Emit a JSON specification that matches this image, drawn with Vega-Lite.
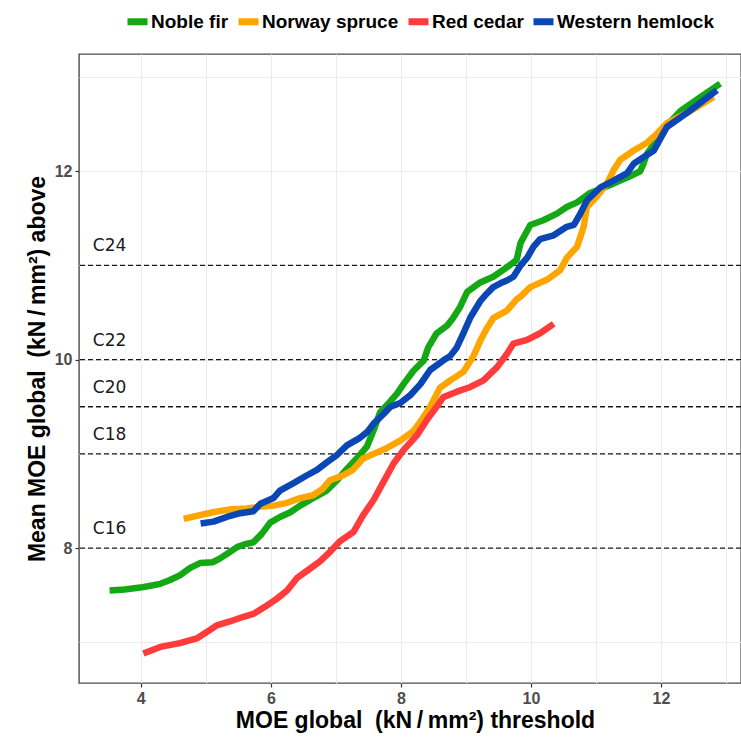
{
  "$schema": "https://vega.github.io/schema/vega-lite/v6.json",
  "width": 662,
  "height": 629,
  "autosize": {"type": "none"},
  "padding": {"left": 79, "top": 54, "right": 0, "bottom": 55},
  "background": "white",
  "config": {
    "view": {"stroke": "#4D4D4D", "strokeWidth": 1.4},
    "font": "Liberation Sans"
  },
  "datasets": {
    "grades": [
      {"grade": "C16", "mean": 8},
      {"grade": "C18", "mean": 9},
      {"grade": "C20", "mean": 9.5},
      {"grade": "C22", "mean": 10},
      {"grade": "C24", "mean": 11}
    ],
    "curves": [
      {"species": "Noble fir", "threshold": 3.52, "mean_above": 7.55},
      {"species": "Noble fir", "threshold": 3.75, "mean_above": 7.56},
      {"species": "Noble fir", "threshold": 3.99, "mean_above": 7.58},
      {"species": "Noble fir", "threshold": 4.15, "mean_above": 7.60},
      {"species": "Noble fir", "threshold": 4.30, "mean_above": 7.62},
      {"species": "Noble fir", "threshold": 4.45, "mean_above": 7.66},
      {"species": "Noble fir", "threshold": 4.60, "mean_above": 7.71},
      {"species": "Noble fir", "threshold": 4.76, "mean_above": 7.79},
      {"species": "Noble fir", "threshold": 4.91, "mean_above": 7.84},
      {"species": "Noble fir", "threshold": 5.11, "mean_above": 7.85},
      {"species": "Noble fir", "threshold": 5.22, "mean_above": 7.89},
      {"species": "Noble fir", "threshold": 5.33, "mean_above": 7.94},
      {"species": "Noble fir", "threshold": 5.48, "mean_above": 8.01},
      {"species": "Noble fir", "threshold": 5.60, "mean_above": 8.04},
      {"species": "Noble fir", "threshold": 5.73, "mean_above": 8.06},
      {"species": "Noble fir", "threshold": 5.86, "mean_above": 8.15},
      {"species": "Noble fir", "threshold": 5.99, "mean_above": 8.27},
      {"species": "Noble fir", "threshold": 6.14, "mean_above": 8.33},
      {"species": "Noble fir", "threshold": 6.30, "mean_above": 8.38},
      {"species": "Noble fir", "threshold": 6.45, "mean_above": 8.45},
      {"species": "Noble fir", "threshold": 6.65, "mean_above": 8.53},
      {"species": "Noble fir", "threshold": 6.86, "mean_above": 8.61},
      {"species": "Noble fir", "threshold": 7.02, "mean_above": 8.72},
      {"species": "Noble fir", "threshold": 7.17, "mean_above": 8.84},
      {"species": "Noble fir", "threshold": 7.32, "mean_above": 8.95},
      {"species": "Noble fir", "threshold": 7.48, "mean_above": 9.08},
      {"species": "Noble fir", "threshold": 7.58, "mean_above": 9.25},
      {"species": "Noble fir", "threshold": 7.68, "mean_above": 9.44},
      {"species": "Noble fir", "threshold": 7.84, "mean_above": 9.56},
      {"species": "Noble fir", "threshold": 7.94, "mean_above": 9.64},
      {"species": "Noble fir", "threshold": 8.04, "mean_above": 9.74},
      {"species": "Noble fir", "threshold": 8.19, "mean_above": 9.88},
      {"species": "Noble fir", "threshold": 8.35, "mean_above": 9.99},
      {"species": "Noble fir", "threshold": 8.42, "mean_above": 10.13},
      {"species": "Noble fir", "threshold": 8.55, "mean_above": 10.28},
      {"species": "Noble fir", "threshold": 8.71, "mean_above": 10.36},
      {"species": "Noble fir", "threshold": 8.80, "mean_above": 10.44},
      {"species": "Noble fir", "threshold": 8.91, "mean_above": 10.56},
      {"species": "Noble fir", "threshold": 9.02, "mean_above": 10.72},
      {"species": "Noble fir", "threshold": 9.22, "mean_above": 10.82},
      {"species": "Noble fir", "threshold": 9.42, "mean_above": 10.88},
      {"species": "Noble fir", "threshold": 9.63, "mean_above": 10.98},
      {"species": "Noble fir", "threshold": 9.78, "mean_above": 11.06},
      {"species": "Noble fir", "threshold": 9.84, "mean_above": 11.24},
      {"species": "Noble fir", "threshold": 9.99, "mean_above": 11.43},
      {"species": "Noble fir", "threshold": 10.19, "mean_above": 11.48},
      {"species": "Noble fir", "threshold": 10.40, "mean_above": 11.55},
      {"species": "Noble fir", "threshold": 10.55, "mean_above": 11.62},
      {"species": "Noble fir", "threshold": 10.71, "mean_above": 11.67},
      {"species": "Noble fir", "threshold": 10.91, "mean_above": 11.77},
      {"species": "Noble fir", "threshold": 11.10, "mean_above": 11.82},
      {"species": "Noble fir", "threshold": 11.27, "mean_above": 11.87},
      {"species": "Noble fir", "threshold": 11.53, "mean_above": 11.95},
      {"species": "Noble fir", "threshold": 11.68, "mean_above": 12.00},
      {"species": "Noble fir", "threshold": 11.73, "mean_above": 12.08},
      {"species": "Noble fir", "threshold": 11.78, "mean_above": 12.18},
      {"species": "Noble fir", "threshold": 11.90, "mean_above": 12.30},
      {"species": "Noble fir", "threshold": 12.05, "mean_above": 12.46},
      {"species": "Noble fir", "threshold": 12.30, "mean_above": 12.64},
      {"species": "Noble fir", "threshold": 12.61, "mean_above": 12.79},
      {"species": "Noble fir", "threshold": 12.91, "mean_above": 12.93},

      {"species": "Norway spruce", "threshold": 4.66, "mean_above": 8.31},
      {"species": "Norway spruce", "threshold": 4.91, "mean_above": 8.35},
      {"species": "Norway spruce", "threshold": 5.11, "mean_above": 8.38},
      {"species": "Norway spruce", "threshold": 5.37, "mean_above": 8.41},
      {"species": "Norway spruce", "threshold": 5.63, "mean_above": 8.42},
      {"species": "Norway spruce", "threshold": 5.84, "mean_above": 8.44},
      {"species": "Norway spruce", "threshold": 6.04, "mean_above": 8.45},
      {"species": "Norway spruce", "threshold": 6.25, "mean_above": 8.48},
      {"species": "Norway spruce", "threshold": 6.45, "mean_above": 8.53},
      {"species": "Norway spruce", "threshold": 6.65, "mean_above": 8.56},
      {"species": "Norway spruce", "threshold": 6.80, "mean_above": 8.63},
      {"species": "Norway spruce", "threshold": 6.91, "mean_above": 8.72},
      {"species": "Norway spruce", "threshold": 7.11, "mean_above": 8.77},
      {"species": "Norway spruce", "threshold": 7.26, "mean_above": 8.83},
      {"species": "Norway spruce", "threshold": 7.42, "mean_above": 8.95},
      {"species": "Norway spruce", "threshold": 7.58, "mean_above": 9.00},
      {"species": "Norway spruce", "threshold": 7.78, "mean_above": 9.06},
      {"species": "Norway spruce", "threshold": 7.99, "mean_above": 9.14},
      {"species": "Norway spruce", "threshold": 8.19, "mean_above": 9.24},
      {"species": "Norway spruce", "threshold": 8.30, "mean_above": 9.34},
      {"species": "Norway spruce", "threshold": 8.45, "mean_above": 9.50},
      {"species": "Norway spruce", "threshold": 8.60, "mean_above": 9.70},
      {"species": "Norway spruce", "threshold": 8.76, "mean_above": 9.78},
      {"species": "Norway spruce", "threshold": 8.96, "mean_above": 9.87},
      {"species": "Norway spruce", "threshold": 9.11, "mean_above": 10.03},
      {"species": "Norway spruce", "threshold": 9.22, "mean_above": 10.20},
      {"species": "Norway spruce", "threshold": 9.32, "mean_above": 10.33},
      {"species": "Norway spruce", "threshold": 9.42, "mean_above": 10.44},
      {"species": "Norway spruce", "threshold": 9.63, "mean_above": 10.52},
      {"species": "Norway spruce", "threshold": 9.78, "mean_above": 10.64},
      {"species": "Norway spruce", "threshold": 9.84, "mean_above": 10.67},
      {"species": "Norway spruce", "threshold": 9.99, "mean_above": 10.77},
      {"species": "Norway spruce", "threshold": 10.25, "mean_above": 10.85},
      {"species": "Norway spruce", "threshold": 10.45, "mean_above": 10.95},
      {"species": "Norway spruce", "threshold": 10.55, "mean_above": 11.08},
      {"species": "Norway spruce", "threshold": 10.71, "mean_above": 11.20},
      {"species": "Norway spruce", "threshold": 10.81, "mean_above": 11.41},
      {"species": "Norway spruce", "threshold": 10.86, "mean_above": 11.62},
      {"species": "Norway spruce", "threshold": 11.01, "mean_above": 11.73},
      {"species": "Norway spruce", "threshold": 11.17, "mean_above": 11.87},
      {"species": "Norway spruce", "threshold": 11.27, "mean_above": 12.01},
      {"species": "Norway spruce", "threshold": 11.37, "mean_above": 12.12},
      {"species": "Norway spruce", "threshold": 11.58, "mean_above": 12.22},
      {"species": "Norway spruce", "threshold": 11.78, "mean_above": 12.30},
      {"species": "Norway spruce", "threshold": 11.94, "mean_above": 12.40},
      {"species": "Norway spruce", "threshold": 12.09, "mean_above": 12.51},
      {"species": "Norway spruce", "threshold": 12.40, "mean_above": 12.62},
      {"species": "Norway spruce", "threshold": 12.81, "mean_above": 12.79},

      {"species": "Red cedar", "threshold": 4.04, "mean_above": 6.88},
      {"species": "Red cedar", "threshold": 4.30, "mean_above": 6.95},
      {"species": "Red cedar", "threshold": 4.60, "mean_above": 6.99},
      {"species": "Red cedar", "threshold": 4.86, "mean_above": 7.04},
      {"species": "Red cedar", "threshold": 5.02, "mean_above": 7.11},
      {"species": "Red cedar", "threshold": 5.17, "mean_above": 7.18},
      {"species": "Red cedar", "threshold": 5.37, "mean_above": 7.22},
      {"species": "Red cedar", "threshold": 5.58, "mean_above": 7.27},
      {"species": "Red cedar", "threshold": 5.73, "mean_above": 7.30},
      {"species": "Red cedar", "threshold": 5.94, "mean_above": 7.39},
      {"species": "Red cedar", "threshold": 6.09, "mean_above": 7.46},
      {"species": "Red cedar", "threshold": 6.25, "mean_above": 7.55},
      {"species": "Red cedar", "threshold": 6.40, "mean_above": 7.68},
      {"species": "Red cedar", "threshold": 6.60, "mean_above": 7.78},
      {"species": "Red cedar", "threshold": 6.76, "mean_above": 7.86},
      {"species": "Red cedar", "threshold": 6.91, "mean_above": 7.96},
      {"species": "Red cedar", "threshold": 7.06, "mean_above": 8.07},
      {"species": "Red cedar", "threshold": 7.27, "mean_above": 8.17},
      {"species": "Red cedar", "threshold": 7.42, "mean_above": 8.35},
      {"species": "Red cedar", "threshold": 7.58, "mean_above": 8.51},
      {"species": "Red cedar", "threshold": 7.73, "mean_above": 8.70},
      {"species": "Red cedar", "threshold": 7.89, "mean_above": 8.90},
      {"species": "Red cedar", "threshold": 8.04, "mean_above": 9.04},
      {"species": "Red cedar", "threshold": 8.25, "mean_above": 9.20},
      {"species": "Red cedar", "threshold": 8.40, "mean_above": 9.36},
      {"species": "Red cedar", "threshold": 8.55, "mean_above": 9.50},
      {"species": "Red cedar", "threshold": 8.65, "mean_above": 9.60},
      {"species": "Red cedar", "threshold": 8.86, "mean_above": 9.66},
      {"species": "Red cedar", "threshold": 9.07, "mean_above": 9.71},
      {"species": "Red cedar", "threshold": 9.27, "mean_above": 9.78},
      {"species": "Red cedar", "threshold": 9.48, "mean_above": 9.92},
      {"species": "Red cedar", "threshold": 9.63, "mean_above": 10.06},
      {"species": "Red cedar", "threshold": 9.73, "mean_above": 10.17},
      {"species": "Red cedar", "threshold": 9.94, "mean_above": 10.21},
      {"species": "Red cedar", "threshold": 10.14, "mean_above": 10.28},
      {"species": "Red cedar", "threshold": 10.35, "mean_above": 10.38},

      {"species": "Western hemlock", "threshold": 4.92, "mean_above": 8.26},
      {"species": "Western hemlock", "threshold": 5.12, "mean_above": 8.28},
      {"species": "Western hemlock", "threshold": 5.32, "mean_above": 8.33},
      {"species": "Western hemlock", "threshold": 5.53, "mean_above": 8.37},
      {"species": "Western hemlock", "threshold": 5.73, "mean_above": 8.39},
      {"species": "Western hemlock", "threshold": 5.84, "mean_above": 8.47},
      {"species": "Western hemlock", "threshold": 6.04, "mean_above": 8.53},
      {"species": "Western hemlock", "threshold": 6.14, "mean_above": 8.61},
      {"species": "Western hemlock", "threshold": 6.35, "mean_above": 8.69},
      {"species": "Western hemlock", "threshold": 6.55, "mean_above": 8.77},
      {"species": "Western hemlock", "threshold": 6.71, "mean_above": 8.83},
      {"species": "Western hemlock", "threshold": 6.86, "mean_above": 8.91},
      {"species": "Western hemlock", "threshold": 7.02, "mean_above": 8.99},
      {"species": "Western hemlock", "threshold": 7.17, "mean_above": 9.09},
      {"species": "Western hemlock", "threshold": 7.37, "mean_above": 9.17},
      {"species": "Western hemlock", "threshold": 7.48, "mean_above": 9.23},
      {"species": "Western hemlock", "threshold": 7.58, "mean_above": 9.32},
      {"species": "Western hemlock", "threshold": 7.73, "mean_above": 9.42},
      {"species": "Western hemlock", "threshold": 7.84, "mean_above": 9.50},
      {"species": "Western hemlock", "threshold": 7.99, "mean_above": 9.54},
      {"species": "Western hemlock", "threshold": 8.14, "mean_above": 9.62},
      {"species": "Western hemlock", "threshold": 8.30, "mean_above": 9.74},
      {"species": "Western hemlock", "threshold": 8.45, "mean_above": 9.89},
      {"species": "Western hemlock", "threshold": 8.65, "mean_above": 9.99},
      {"species": "Western hemlock", "threshold": 8.76, "mean_above": 10.04},
      {"species": "Western hemlock", "threshold": 8.86, "mean_above": 10.13},
      {"species": "Western hemlock", "threshold": 8.96, "mean_above": 10.28},
      {"species": "Western hemlock", "threshold": 9.07, "mean_above": 10.45},
      {"species": "Western hemlock", "threshold": 9.22, "mean_above": 10.62},
      {"species": "Western hemlock", "threshold": 9.32, "mean_above": 10.70},
      {"species": "Western hemlock", "threshold": 9.42, "mean_above": 10.77},
      {"species": "Western hemlock", "threshold": 9.53, "mean_above": 10.81},
      {"species": "Western hemlock", "threshold": 9.63, "mean_above": 10.84},
      {"species": "Western hemlock", "threshold": 9.73, "mean_above": 10.88},
      {"species": "Western hemlock", "threshold": 9.84, "mean_above": 11.00},
      {"species": "Western hemlock", "threshold": 9.94, "mean_above": 11.08},
      {"species": "Western hemlock", "threshold": 10.04, "mean_above": 11.20},
      {"species": "Western hemlock", "threshold": 10.14, "mean_above": 11.28},
      {"species": "Western hemlock", "threshold": 10.35, "mean_above": 11.32},
      {"species": "Western hemlock", "threshold": 10.55, "mean_above": 11.41},
      {"species": "Western hemlock", "threshold": 10.66, "mean_above": 11.43},
      {"species": "Western hemlock", "threshold": 10.76, "mean_above": 11.55},
      {"species": "Western hemlock", "threshold": 10.86, "mean_above": 11.69},
      {"species": "Western hemlock", "threshold": 11.07, "mean_above": 11.83},
      {"species": "Western hemlock", "threshold": 11.27, "mean_above": 11.90},
      {"species": "Western hemlock", "threshold": 11.48, "mean_above": 11.98},
      {"species": "Western hemlock", "threshold": 11.58, "mean_above": 12.08},
      {"species": "Western hemlock", "threshold": 11.73, "mean_above": 12.15},
      {"species": "Western hemlock", "threshold": 11.89, "mean_above": 12.22},
      {"species": "Western hemlock", "threshold": 12.00, "mean_above": 12.36},
      {"species": "Western hemlock", "threshold": 12.09, "mean_above": 12.47},
      {"species": "Western hemlock", "threshold": 12.40, "mean_above": 12.62},
      {"species": "Western hemlock", "threshold": 12.86, "mean_above": 12.86}
    ]
  },
  "layer": [
    {
      "data": {"name": "grades"},
      "mark": {"type": "rule", "strokeDash": [5, 3], "color": "#1A1A1A", "strokeWidth": 1.3},
      "encoding": {
        "y": {"field": "mean", "type": "quantitative"}
      }
    },
    {
      "data": {"name": "grades"},
      "mark": {"type": "text", "font": "DejaVu Sans", "fontSize": 17, "baseline": "alphabetic", "align": "center", "dy": -14, "color": "#1A1A1A"},
      "encoding": {
        "x": {"datum": 3.52, "type": "quantitative"},
        "y": {"field": "mean", "type": "quantitative"},
        "text": {"field": "grade", "type": "nominal"}
      }
    },
    {
      "data": {"name": "curves"},
      "mark": {"type": "line", "strokeWidth": 6.5, "strokeCap": "butt", "strokeJoin": "round", "clip": true},
      "encoding": {
        "x": {
          "field": "threshold",
          "type": "quantitative",
          "scale": {"domain": [3.05, 13.23], "nice": false, "zero": false},
          "axis": {
            "title": "MOE global\u00a0 (kN\u2009/\u2009mm²) threshold",
            "titleFont": "Liberation Sans",
            "titleFontSize": 23,
            "titleFontWeight": "bold",
            "titleColor": "black",
            "titlePadding": 3,
            "titleX": 336,
            "values": [4, 5, 6, 7, 8, 9, 10, 11, 12, 13],
            "format": "d",
            "labelExpr": "datum.value % 2 == 0 ? datum.label : ''",
            "labelFont": "Liberation Sans",
            "labelFontWeight": "bold",
            "labelFontSize": 16,
            "labelColor": "#4D4D4D",
            "labelPadding": 3,
            "domain": false,
            "tickSize": 4,
            "tickWidth": 1.2,
            "tickColor": "#333333",
            "tickOpacity": {"condition": {"test": "datum.value % 2 == 1", "value": 0}, "value": 1},
            "grid": true,
            "gridColor": "#EBEBEB",
            "gridWidth": 1.1
          }
        },
        "y": {
          "field": "mean_above",
          "type": "quantitative",
          "scale": {"domain": [6.567, 13.245], "nice": false, "zero": false},
          "axis": {
            "title": "Mean MOE global\u00a0 (kN\u2009/\u2009mm²) above",
            "titleFont": "Liberation Sans",
            "titleFontSize": 23,
            "titleFontWeight": "bold",
            "titleColor": "black",
            "titlePadding": 5,
            "values": [7, 8, 9, 10, 11, 12, 13],
            "format": "d",
            "labelExpr": "datum.value % 2 == 0 ? datum.label : ''",
            "labelFont": "Liberation Sans",
            "labelFontWeight": "bold",
            "labelFontSize": 16,
            "labelColor": "#4D4D4D",
            "labelPadding": 3,
            "domain": false,
            "tickSize": 4,
            "tickWidth": 1.2,
            "tickColor": "#333333",
            "tickOpacity": {"condition": {"test": "datum.value % 2 == 1", "value": 0}, "value": 1},
            "grid": true,
            "gridColor": "#EBEBEB",
            "gridWidth": 1.1
          }
        },
        "color": {
          "field": "species",
          "type": "nominal",
          "scale": {
            "domain": ["Noble fir", "Norway spruce", "Red cedar", "Western hemlock"],
            "range": ["#14A814", "#FFA500", "#FF3B3B", "#0A47B5"]
          },
          "legend": {
            "title": null,
            "orient": "none",
            "direction": "horizontal",
            "legendX": 45,
            "legendY": -46,
            "labelFont": "Liberation Sans",
            "labelFontSize": 19,
            "labelFontWeight": "bold",
            "labelColor": "black",
            "labelLimit": 400,
            "labelOffset": 0,
            "columnPadding": -5,
            "symbolType": "stroke",
            "symbolSize": 400,
            "symbolStrokeWidth": 7
          }
        }
      }
    }
  ]
}
